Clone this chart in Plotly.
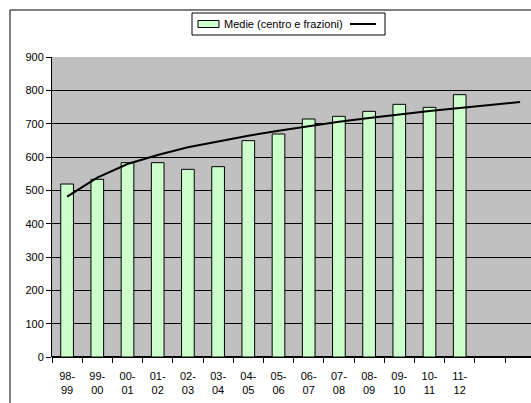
import plotly.graph_objects as go

# anni scolastici
anni = ["98-99", "99-00", "00-01", "01-02", "02-03", "03-04", "04-05",
        "05-06", "06-07", "07-08", "08-09", "09-10", "10-11", "11-12"]
medie = [519, 533, 583, 583, 563, 571, 649, 669, 714, 722, 737, 758, 749, 787]
# linea di tendenza (con due periodi di previsione)
tendenza = [481, 538, 579, 606, 629, 647, 664, 679, 693, 706, 717, 728, 738, 747, 756, 765]

pos_barre = list(range(len(anni)))
pos_tend = list(range(len(tendenza)))
etichette = [a.replace("-", "-<br>") for a in anni]

W, H = 531, 403
L, R, T, B = 52, 0, 57, 46
PW, PH = W - L - R, H - T - B


# pixel -> coordinate paper
def px(x):
    return (x - L) / PW


def py(y):
    return 1 + (T - y) / PH


fig = go.Figure()

fig.add_trace(go.Bar(
    x=pos_barre,
    y=medie,
    name="Medie (centro e frazioni)",
    width=0.42,
    marker=dict(color="#CCFFCC", line=dict(color="black", width=1)),
))

fig.add_trace(go.Scatter(
    x=pos_tend,
    y=tendenza,
    mode="lines",
    name=" ",
    line=dict(color="black", width=2),
))

fig.update_layout(
    width=W,
    height=H,
    margin=dict(l=L, r=R, t=T, b=B, autoexpand=False),
    paper_bgcolor="white",
    plot_bgcolor="#C0C0C0",
    font=dict(family="Liberation Sans, Arial", size=11, color="black"),
    showlegend=False,
    xaxis=dict(
        range=[-0.5, -0.5 + PW / 30.2],
        tickvals=pos_barre,
        ticktext=etichette,
        ticks="",
        ticklabelstandoff=11,
        showgrid=False,
        zeroline=False,
        showline=False,
        automargin=False,
        minor=dict(tick0=-0.5, dtick=1, ticks="outside", ticklen=5,
                   tickcolor="black", showgrid=False),
    ),
    yaxis=dict(
        range=[0, 900],
        dtick=100,
        ticks="outside",
        ticklen=5,
        tickcolor="black",
        showgrid=True,
        gridcolor="black",
        gridwidth=1,
        zeroline=True,
        zerolinecolor="black",
        showline=True,
        linecolor="black",
        automargin=False,
    ),
    shapes=[
        # bordo dell'area del grafico
        dict(type="rect", xref="paper", yref="paper",
             x0=px(10), x1=px(560), y0=py(420), y1=py(10),
             line=dict(color="black", width=1)),
        # legenda
        dict(type="rect", xref="paper", yref="paper",
             x0=px(192), x1=px(385), y0=py(35), y1=py(13),
             fillcolor="white", line=dict(color="black", width=1)),
        dict(type="rect", xref="paper", yref="paper",
             x0=px(198), x1=px(219), y0=py(27.5), y1=py(20.5),
             fillcolor="#CCFFCC", line=dict(color="black", width=1)),
        dict(type="line", xref="paper", yref="paper",
             x0=px(350), x1=px(376), y0=py(24), y1=py(24),
             line=dict(color="black", width=2)),
    ],
    annotations=[
        dict(text="Medie (centro e frazioni)", xref="paper", yref="paper",
             x=px(222), y=py(24), xanchor="left", yanchor="middle",
             showarrow=False, font=dict(size=11)),
    ],
)

fig.write_html("out.html", config={"displayModeBar": False},
               post_script="document.body.style.margin='0';")
